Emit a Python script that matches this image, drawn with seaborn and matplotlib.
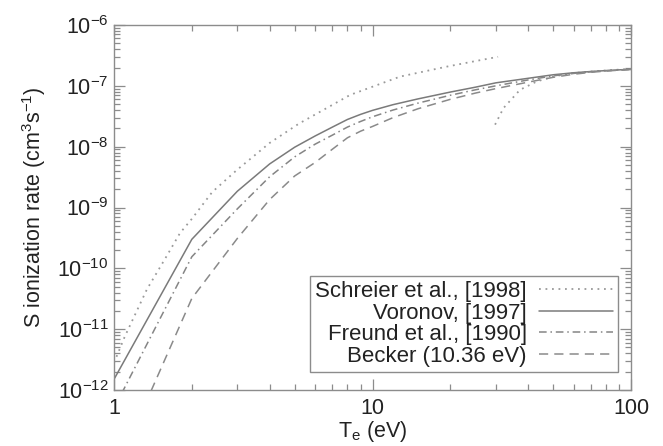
import matplotlib
matplotlib.use("Agg")
import matplotlib.pyplot as plt
import matplotlib.ticker as mticker
import numpy as np
import pandas as pd
import seaborn as sns

# Electron temperature grid (eV) shared by the Voronov, Freund and Becker rates
temps = [1, 2, 3, 4, 5, 6, 7, 8, 9, 10, 12, 15, 20, 25, 30, 40, 50, 60, 70, 80, 90, 100]

# Ionization rate coefficients (cm^3 s^-1)
voronov = [1.5e-12, 3.0e-10, 1.85e-9, 5.2e-9, 9.8e-9, 1.5e-8, 2.1e-8, 2.8e-8, 3.4e-8, 3.95e-8,
           4.9e-8, 6.1e-8, 7.9e-8, 9.5e-8, 1.12e-7, 1.33e-7, 1.52e-7, 1.64e-7, 1.72e-7, 1.78e-7,
           1.83e-7, 1.87e-7]
freund = [5e-13, 1.55e-10, 9.5e-10, 3.2e-9, 6.8e-9, 1.1e-8, 1.55e-8, 2.1e-8, 2.6e-8, 3.1e-8,
          4.0e-8, 5.2e-8, 7.0e-8, 8.6e-8, 1.0e-7, 1.25e-7, 1.46e-7, 1.6e-7, 1.7e-7, 1.77e-7,
          1.82e-7, 1.86e-7]
becker = [4e-14, 3.2e-11, 3.1e-10, 1.35e-9, 3.3e-9, 5.5e-9, 9.1e-9, 1.4e-8, 1.8e-8, 2.15e-8,
          3.0e-8, 4.2e-8, 6.0e-8, 7.6e-8, 9.0e-8, 1.15e-7, 1.38e-7, 1.55e-7, 1.67e-7, 1.75e-7,
          1.81e-7, 1.86e-7]

# Schreier et al. fit: low-temperature branch and high-temperature branch
schreier_t = [1.0, 1.1, 1.34, 1.6, 1.8, 2.0, 2.4, 3.0, 3.4, 4.0, 5.2, 8.2, 12.8, 19.4, 25, 30.6]
schreier = [2.8e-12, 7.5e-12, 4.5e-11, 1.6e-10, 3.8e-10, 6.5e-10, 1.8e-9, 4.2e-9, 6.5e-9, 1.15e-8,
            2.4e-8, 7.1e-8, 1.42e-7, 2.07e-7, 2.55e-7, 3.0e-7]
schreier_hi_t = [29.8, 32.1, 37.2, 43.2, 50.1, 58, 70, 85, 100]
schreier_hi = [2.3e-8, 4.3e-8, 8.6e-8, 1.18e-7, 1.42e-7, 1.6e-7, 1.72e-7, 1.82e-7, 1.9e-7]

labels = ["Schreier et al., [1998]", "Voronov, [1997]", "Freund et al., [1990]", "Becker (10.36 eV)"]
xtick_vals = [1, 10, 100]
xtick_labels = ["1", "10", "100"]
ytick_exps = [-12, -11, -10, -9, -8, -7, -6]

sns.set_style("ticks")
plt.rcParams["font.family"] = ["Liberation Sans", "DejaVu Sans"]
plt.rcParams["mathtext.default"] = "regular"

FS = 15.5
LFS = 16
TXT = "#222222"
AX = "#8c8c8c"

fig = plt.figure(figsize=(6.63, 4.46), dpi=100)
ax = fig.add_axes([114 / 663, 56 / 446, 517 / 663, 365 / 446])

def frame(t, r, src):
    return pd.DataFrame({"T": t, "rate": r, "src": src})

styles = [
    dict(color="#9a9a9a", linestyle=(0, (1.0, 2.6)), linewidth=1.3),
    dict(color="#7a7a7a", linestyle="-", linewidth=1.1),
    dict(color="#858585", linestyle=(0, (5, 2.5, 1, 2.5)), linewidth=1.1),
    dict(color="#8a8a8a", linestyle=(0, (6, 4)), linewidth=1.1),
]

sns.lineplot(data=frame(schreier_t, schreier, labels[0]), x="T", y="rate", ax=ax,
             estimator=None, sort=False, label=labels[0], **styles[0])
sns.lineplot(data=frame(schreier_hi_t, schreier_hi, labels[0]), x="T", y="rate", ax=ax,
             estimator=None, sort=False, **styles[0])
sns.lineplot(data=frame(temps, voronov, labels[1]), x="T", y="rate", ax=ax,
             estimator=None, sort=False, label=labels[1], **styles[1])
sns.lineplot(data=frame(temps, freund, labels[2]), x="T", y="rate", ax=ax,
             estimator=None, sort=False, label=labels[2], **styles[2])
sns.lineplot(data=frame(temps, becker, labels[3]), x="T", y="rate", ax=ax,
             estimator=None, sort=False, label=labels[3], **styles[3])

ax.set_xscale("log")
ax.set_yscale("log")
ax.set_xlim(1, 100)
ax.set_ylim(1e-12, 1e-6)

ax.xaxis.set_major_locator(mticker.FixedLocator(xtick_vals))
ax.xaxis.set_major_formatter(mticker.FixedFormatter(xtick_labels))
ax.xaxis.set_minor_locator(mticker.LogLocator(base=10, subs=np.arange(2, 10)))
ax.xaxis.set_minor_formatter(mticker.NullFormatter())
ax.yaxis.set_major_locator(mticker.FixedLocator([10.0 ** e for e in ytick_exps]))
ax.yaxis.set_major_formatter(mticker.FixedFormatter(
    ["$10^{%d}$" % e for e in ytick_exps]))
ax.yaxis.set_minor_locator(mticker.LogLocator(base=10, subs=np.arange(2, 10), numticks=20))
ax.yaxis.set_minor_formatter(mticker.NullFormatter())

ax.tick_params(which="both", direction="in", top=True, right=True, colors=AX,
               labelcolor=TXT, labelsize=FS, width=0.9)
ax.tick_params(which="major", length=8)
ax.tick_params(which="minor", length=4)
ax.tick_params(axis="x", which="major", pad=6)
ax.tick_params(axis="y", which="major", pad=4)
for s in ax.spines.values():
    s.set_color(AX)
    s.set_linewidth(1.0)

ax.set_xlabel("T$_e$ (eV)", fontsize=FS, color=TXT, labelpad=0)
ax.set_ylabel("S ionization rate (cm$^3$s$^{-1}$)", fontsize=FS, color=TXT, labelpad=7)

leg = ax.legend(loc="lower right", bbox_to_anchor=(0.975, 0.049), borderaxespad=0,
                markerfirst=False, fontsize=LFS, frameon=True, fancybox=False,
                framealpha=1, edgecolor=AX, handlelength=3.3, handletextpad=0.55,
                labelspacing=0.02, borderpad=0.25)
leg.get_frame().set_linewidth(1.0)
for t in leg.get_texts():
    t.set_color(TXT)

fig.savefig("out.png", dpi=100)
